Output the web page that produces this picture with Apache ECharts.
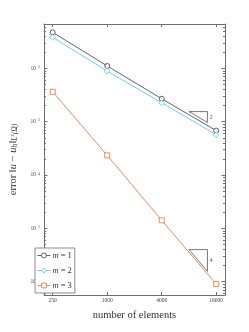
<!DOCTYPE html>
<html>
<head>
<meta charset="utf-8">
<script src="https://cdn.jsdelivr.net/npm/echarts@6/dist/echarts.min.js"></script>
<style>
html,body{margin:0;padding:0;background:#fff;}
#chart{width:249px;height:332px;}
</style>
</head>
<body>
<div id="chart"></div>
<script>
// ---- data ----
const elements = [250, 1000, 4000, 16000];
const errM1 = [0.0475, 0.0111, 0.0027, 6.8e-4];
const errM2 = [0.0383, 0.0089, 0.00227, 5.7e-4];
const errM3 = [0.00365, 2.34e-4, 1.41e-5, 9.0e-7];
const seriesNames = ['m = 1', 'm = 2', 'm = 3'];
const seriesColors = ['#3c3c3c', '#4DBEEE', '#E0703F'];
const seriesSymbols = ['circle', 'diamond', 'rect'];
const xTickValues = [250, 1000, 4000, 16000];
const yTickExponents = [-6, -5, -4, -3, -2];
const slope2X = [8000, 12800, 12800, 8000];
const slope2Y = [1.55e-3, 1.55e-3, 9.69e-4, 1.55e-3];
const slope4X = [8000, 12800, 12800, 8000];
const slope4Y = [4.0e-6, 4.0e-6, 1.5625e-6, 4.0e-6];
const slopeLabels = ['2', '4'];

// ---- helpers ----
const L = Math.log10;
const xMin = L(200), xMax = L(20000);
const yMin = -6.25, yMax = -1.167;
const pairs = (xs, ys) => xs.map((x, i) => [L(x), L(ys[i])]);
const minorY = [];
for (let n = -7; n <= -2; n++) for (let k = 2; k <= 9; k++) {
  const v = L(k) + n;
  if (v > yMin && v < yMax) minorY.push(v);
}
const axisColor = '#6e6e6e';
const font = 'Liberation Serif';
const supLabel = v => '{b|10}{s|−' + Math.abs(Math.round(v)) + '}';

const chart = echarts.init(document.getElementById('chart'), null, {renderer: 'canvas'});
const baseX = {
  type: 'value', min: xMin, max: xMax, splitLine: {show: false},
  axisLine: {show: true, onZero: false, lineStyle: {color: axisColor, width: 1}},
};
const baseY = {
  type: 'value', min: yMin, max: yMax, splitLine: {show: false},
  axisLine: {show: true, onZero: false, lineStyle: {color: axisColor, width: 1}},
};
const errs = [errM1, errM2, errM3];
const dataSeries = seriesNames.map((name, i) => ({
  name, type: 'line', data: pairs(elements, errs[i]),
  symbol: seriesSymbols[i], symbolSize: i === 1 ? 6 : 5,
  itemStyle: {color: '#fff', borderColor: seriesColors[i], borderWidth: 0.8},
  lineStyle: {color: seriesColors[i], width: 0.8}
}));

const option = {
  animation: false,
  backgroundColor: '#fff',
  grid: {left: 32, right: 24, top: 24, bottom: 37, containLabel: false},
  xAxis: [
    Object.assign({}, baseX, {
      position: 'bottom',
      axisTick: {show: true, inside: true, length: 3, customValues: xTickValues.map(L), lineStyle: {color: axisColor}},
      axisLabel: {show: true, customValues: xTickValues.map(L), formatter: v => String(Math.round(Math.pow(10, v))),
        fontFamily: font, fontSize: 5.5, color: '#444', margin: 3},
      name: 'number of elements', nameLocation: 'middle', nameGap: 15,
      nameTextStyle: {fontFamily: font, fontSize: 10.5, color: '#333'}
    }),
    Object.assign({}, baseX, {
      position: 'top',
      axisTick: {show: true, inside: true, length: 3, customValues: xTickValues.map(L), lineStyle: {color: axisColor}},
      axisLabel: {show: false}
    })
  ],
  yAxis: [
    Object.assign({}, baseY, {
      position: 'left',
      axisTick: {show: true, inside: true, length: 3.5, customValues: yTickExponents, lineStyle: {color: axisColor}},
      axisLabel: {show: true, customValues: yTickExponents, formatter: supLabel, margin: 4, color: '#444',
        rich: {b: {fontFamily: font, fontSize: 5.5, color: '#444'},
               s: {fontFamily: font, fontSize: 3.8, color: '#444', padding: [0, 0, 3, 0]}}},
      name: '{n|error }{n|‖}{i|u}{n| − }{i|u}{s|h}{n|‖}{s|L}{ss|2}{s|(Ω)}',
      nameLocation: 'middle', nameRotate: 90, nameGap: 20,
      nameTextStyle: {
        rich: {
          n: {fontFamily: font, fontSize: 10.5, color: '#333'},
          i: {fontFamily: font, fontSize: 10.5, fontStyle: 'italic', color: '#333'},
          s: {fontFamily: font, fontSize: 7.5, fontStyle: 'italic', color: '#333', padding: [4, 0, 0, 0]},
          ss: {fontFamily: font, fontSize: 5, color: '#333', padding: [0, 0, 2, 0]}
        }
      }
    }),
    Object.assign({}, baseY, {
      position: 'left', axisLine: {show: false},
      axisTick: {show: true, inside: true, length: 2, customValues: minorY, lineStyle: {color: axisColor}},
      axisLabel: {show: false}
    }),
    Object.assign({}, baseY, {
      position: 'right',
      axisTick: {show: true, inside: true, length: 3.5, customValues: yTickExponents, lineStyle: {color: axisColor}},
      axisLabel: {show: false}
    }),
    Object.assign({}, baseY, {
      position: 'right', axisLine: {show: false},
      axisTick: {show: true, inside: true, length: 2, customValues: minorY, lineStyle: {color: axisColor}},
      axisLabel: {show: false}
    })
  ],
  legend: {
    data: seriesNames,
    orient: 'vertical', left: 35, top: 248,
    backgroundColor: '#fff', borderColor: axisColor, borderWidth: 0.8,
    padding: [3, 3, 3, 2], itemGap: 6, itemWidth: 13, itemHeight: 6,
    itemStyle: {borderWidth: 0.8},
    lineStyle: {width: 0.8},
    formatter: name => '{i|m}{t|' + name.slice(1) + '}',
    textStyle: {
      color: '#333', padding: [0, 0, 0, -3],
      rich: {
        i: {fontFamily: font, fontSize: 8.5, fontStyle: 'italic', color: '#333'},
        t: {fontFamily: font, fontSize: 8.5, color: '#333'}
      }
    }
  },
  series: dataSeries.concat([
    {name: 'slope2', type: 'line', data: pairs(slope2X, slope2Y), symbol: 'none', silent: true,
      lineStyle: {color: '#555', width: 0.8}},
    {name: 'slope4', type: 'line', data: pairs(slope4X, slope4Y), symbol: 'none', silent: true,
      lineStyle: {color: '#555', width: 0.8}},
    {name: 'slopeText', type: 'scatter', symbolSize: 0, silent: true,
      data: [
        {value: [L(slope2X[1]), (L(slope2Y[1]) + L(slope2Y[2])) / 2], label: {formatter: slopeLabels[0]}},
        {value: [L(slope4X[1]), (L(slope4Y[1]) + L(slope4Y[2])) / 2], label: {formatter: slopeLabels[1]}}
      ],
      label: {show: true, position: 'right', distance: 2, fontFamily: font, fontSize: 6.5, color: '#333'}}
  ])
};
chart.setOption(option);
</script>
</body>
</html>
